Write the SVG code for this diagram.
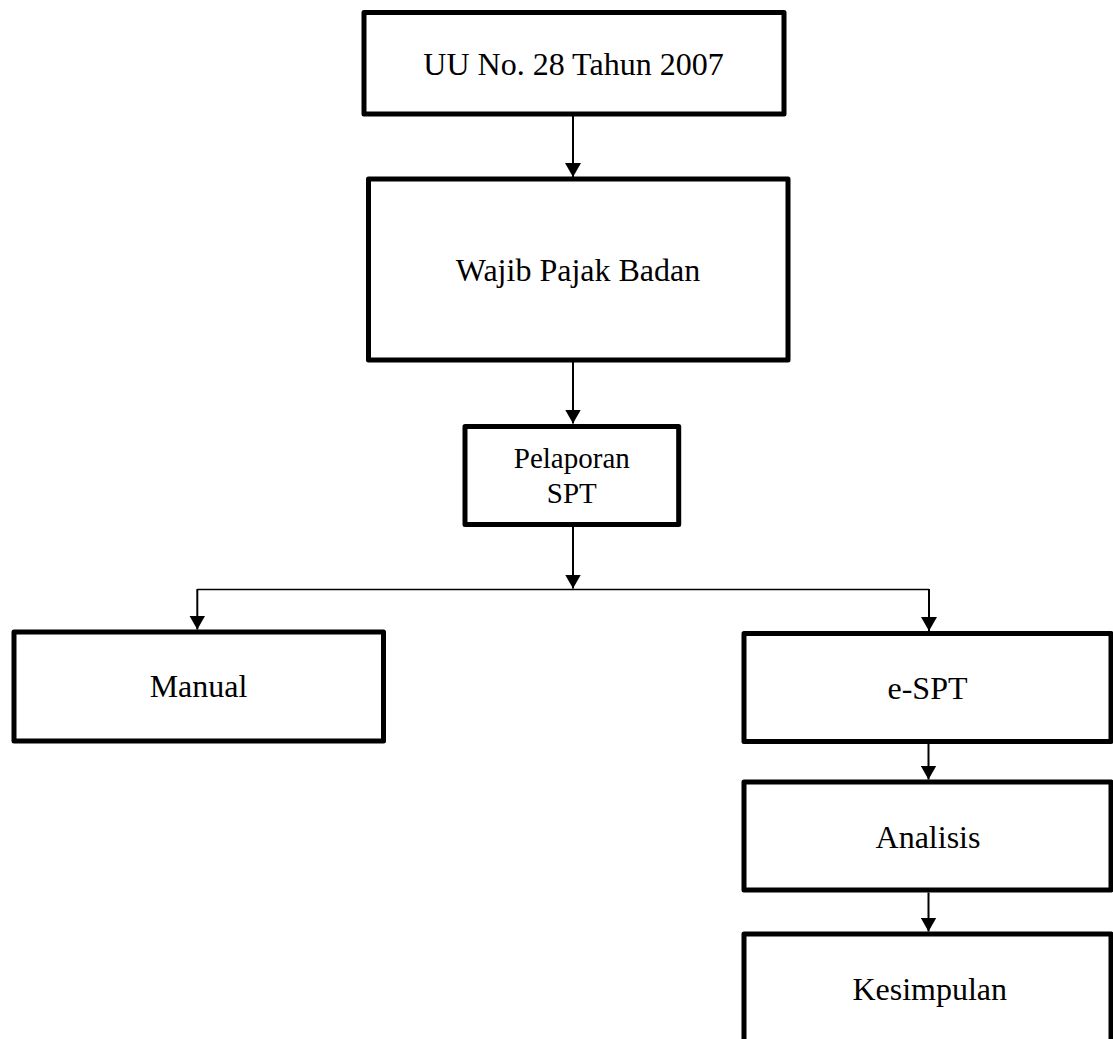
<svg xmlns="http://www.w3.org/2000/svg" width="1113" height="1039" viewBox="0 0 1113 1039">
  <style>
    .box { fill: #ffffff; stroke: #000000; stroke-width: 5; stroke-linejoin: round; }
    .lbl { font-family: "Liberation Serif", "Times New Roman", serif; font-size: 32px; fill: #000000; text-anchor: middle; }
    .sm { font-size: 29px; }
    .conn { fill: none; stroke: #000000; stroke-width: 2; }
    .thin { stroke-width: 1.6; }
  </style>
  <defs>
    <marker id="arrow" viewBox="0 0 14 16" refX="14" refY="8" markerWidth="14" markerHeight="16" markerUnits="userSpaceOnUse" orient="auto">
      <path d="M0,0 L14,8 L0,16 z" fill="#000000"/>
    </marker>
  </defs>
  <rect width="1113" height="1039" fill="#ffffff"/>
  <g id="connectors">
    <line class="conn" x1="573" y1="116" x2="573" y2="177" marker-end="url(#arrow)"/>
    <line class="conn" x1="573" y1="362" x2="573" y2="423.5" marker-end="url(#arrow)"/>
    <line class="conn" x1="573" y1="527" x2="573" y2="588.5" marker-end="url(#arrow)"/>
    <line class="conn thin" x1="197.3" y1="589.5" x2="929" y2="589.5"/>
    <line class="conn" x1="197.3" y1="589" x2="197.3" y2="629.5" marker-end="url(#arrow)"/>
    <line class="conn" x1="929" y1="589" x2="929" y2="631" marker-end="url(#arrow)"/>
    <line class="conn" x1="928.5" y1="744" x2="928.5" y2="779.5" marker-end="url(#arrow)"/>
    <line class="conn" x1="928.5" y1="892.5" x2="928.5" y2="931.5" marker-end="url(#arrow)"/>
  </g>
  <g id="node-uu">
    <rect class="box" x="364" y="12.5" width="420" height="101.5"/>
    <text class="lbl" x="573.5" y="75">UU No. 28 Tahun 2007</text>
  </g>
  <g id="node-wajib">
    <rect class="box" x="368.5" y="179" width="419.5" height="181"/>
    <text class="lbl" x="578" y="281">Wajib Pajak Badan</text>
  </g>
  <g id="node-pelaporan">
    <rect class="box" x="465" y="426.5" width="213.7" height="98"/>
    <text class="lbl sm" x="571.8" y="468.3">Pelaporan</text>
    <text class="lbl sm" x="571.8" y="502.7">SPT</text>
  </g>
  <g id="node-manual">
    <rect class="box" x="14" y="632" width="369.5" height="109"/>
    <text class="lbl" x="198.5" y="697.3">Manual</text>
  </g>
  <g id="node-espt">
    <rect class="box" x="744" y="633.5" width="367" height="108"/>
    <text class="lbl" x="927.5" y="699.3">e-SPT</text>
  </g>
  <g id="node-analisis">
    <rect class="box" x="744" y="782" width="367" height="108"/>
    <text class="lbl" x="928" y="848.3">Analisis</text>
  </g>
  <g id="node-kesimpulan">
    <rect class="box" x="744" y="934" width="367" height="200"/>
    <text class="lbl" x="929.7" y="1000">Kesimpulan</text>
  </g>
</svg>
